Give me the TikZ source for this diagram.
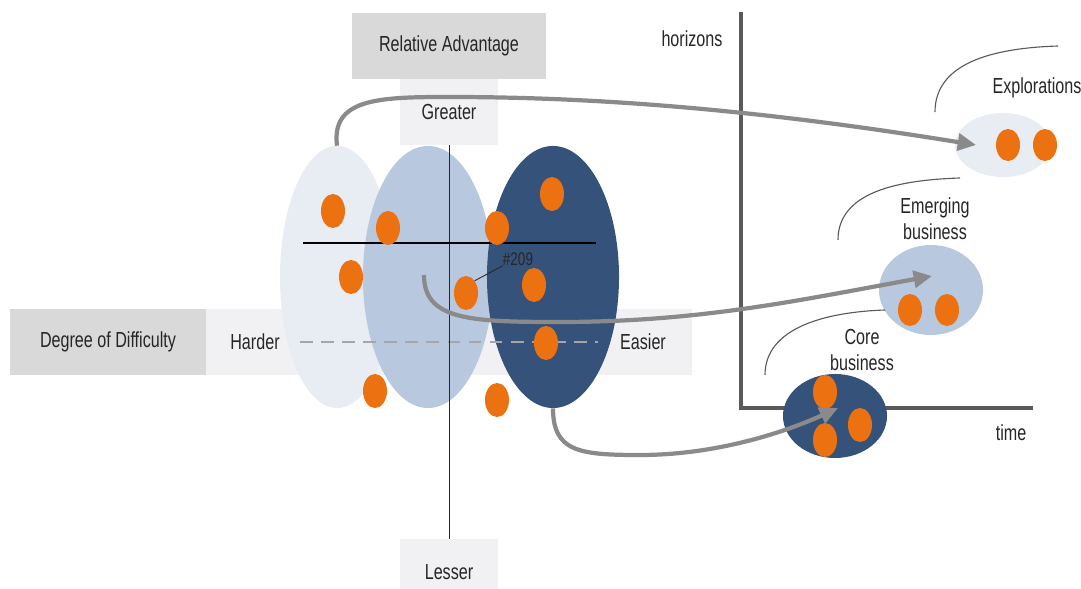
\documentclass[tikz,border=0pt]{standalone}
\usepackage{fontspec}
\setmainfont{Liberation Sans}[FakeStretch=0.74]
\usepackage{tikz}
\usetikzlibrary{arrows.meta,shapes.geometric}

\definecolor{boxgray}{HTML}{D9D9D9}
\definecolor{palebox}{HTML}{F1F1F4}
\definecolor{lightblob}{HTML}{E8ECF3}
\definecolor{midblob}{HTML}{B8C9DF}
\definecolor{darkblob}{HTML}{35527A}
\definecolor{dotorange}{HTML}{EC7211}
\definecolor{flowgray}{HTML}{8A8A8A}
\definecolor{axisgray}{HTML}{5A5A5A}
\definecolor{inkgray}{HTML}{262626}

\tikzset{
	txt/.style={font=\fontsize{15.5}{18.5}\selectfont, text=inkgray, inner sep=0pt},
	tagbox/.style={txt, minimum height=1.625cm},
	blob/.style={ellipse, inner sep=0pt, draw=none},
	dot/.style={ellipse, fill=dotorange, minimum width=0.6cm, minimum height=0.85cm, inner sep=0pt},
	flow/.style={draw=flowgray, line width=3pt, -{Triangle[length=13pt,width=12pt]}},
	hoop/.style={draw=axisgray, line width=0.8pt},
}

\begin{document}
\begin{tikzpicture}[x=0.025cm,y=-0.025cm]
	\useasboundingbox (0,0) rectangle (1081,589);

	% labels of the two scales
	\node[tagbox, fill=boxgray, minimum width=4.85cm] (relAdv) at (449,46) {Relative Advantage};
	\node[tagbox, fill=palebox, minimum width=2.425cm] (greater) at (449,112) {Greater};
	\node[tagbox, fill=palebox, minimum width=2.425cm] (lesser) at (449,572) {Lesser};
	\node[tagbox, fill=palebox, minimum width=12.15cm] (band) at (449,342) {};
	\node[tagbox, fill=boxgray, minimum width=4.9cm] (degDiff) at (108,342) {Degree of Difficulty};

	% the three groups
	\node[blob, fill=lightblob, minimum width=2.85cm, minimum height=6.55cm] (lightE) at (337,277) {};
	\node[blob, fill=midblob, minimum width=3.25cm, minimum height=6.55cm] (midE) at (428,277) {};
	\node[blob, fill=darkblob, minimum width=3.3cm, minimum height=6.55cm] (darkE) at (553,277) {};

	\node[txt] (harder) at (255,342) {Harder};
	\node[txt] (easier) at (643,342) {Easier};
	\draw[color=gray!70, line width=1pt, dash pattern=on 9pt off 6pt, shorten <=0.5cm, shorten >=0.55cm] (harder.east) -- (easier.west);

	\draw[color=inkgray, line width=0.7pt] (greater.south) -- (lesser.north);
	\draw[color=black, line width=1pt] (303,243) -- (596,243);

	\foreach \x/\y [count=\i] in {333/211, 388/228, 351/277, 375/391, 497/228, 552/194, 466/293, 534/285, 546/343, 497/400}
		\node[dot] (d\i) at (\x,\y) {};

	\node[txt, font=\fontsize{13}{14}\selectfont] (tag209) at (518,259) {\#209};
	\draw[color=inkgray, line width=0.6pt] (d7.north east) -- (tag209.south west);

	% horizons
	\draw[color=axisgray, line width=2.4pt] (741,12) -- (741,408) -- (1033,408);
	\node[txt] (horizons) at (692,39) {horizons};
	\node[txt] (time) at (1011,433) {time};

	\node[blob, fill=lightblob, minimum width=2.4cm, minimum height=1.6cm] (explE) at (1003,145) {};
	\node[blob, fill=midblob, minimum width=2.6cm, minimum height=2.25cm] (emerE) at (931,290) {};
	\node[blob, fill=darkblob, minimum width=2.6cm, minimum height=2.1cm] (coreE) at (835,416) {};

	\node[dot, minimum height=0.8cm] (x1) at (1008,145) {};
	\node[dot, minimum height=0.8cm] (x2) at (1045,145) {};
	\node[dot, minimum height=0.8cm] (m1) at (910,310) {};
	\node[dot, minimum height=0.8cm] (m2) at (947,310) {};
	\node[dot] (c1) at (825,392) {};
	\node[dot] (c2) at (860,425) {};
	\node[dot] (c3) at (825,440) {};

	\node[txt] (explLbl) at (1037,88) {Explorations};
	\node[txt, align=center] (emerLbl) at (935,219) {Emerging\\business};
	\node[txt, align=center] (coreLbl) at (862,350) {Core\\business};

	\draw[hoop] (935,112) .. controls (935,62) and (995,48) .. (1058,46);
	\draw[hoop] (838,240) .. controls (838,192) and (898,180) .. (960,178);
	\draw[hoop] (765,375) .. controls (765,328) and (825,312) .. (885,310);

	% moves between horizons
	\coordinate (explIn) at (976,145);
	\coordinate (emerIn) at (932,276);
	\coordinate (coreIn) at (838,408);
	\coordinate (midOut) at (424,275);

	\draw[flow] (lightE.north) .. controls (331,98) and (380,97) .. (450,97) .. controls (600,97) and (760,110) .. (explIn);
	\draw[flow] (midOut) .. controls (424,320) and (470,322) .. (560,322) .. controls (700,322) and (800,300) .. (emerIn);
	\draw[flow] (darkE.south) .. controls (553,452) and (580,455) .. (640,455) .. controls (720,455) and (790,430) .. (coreIn);
\end{tikzpicture}
\end{document}
